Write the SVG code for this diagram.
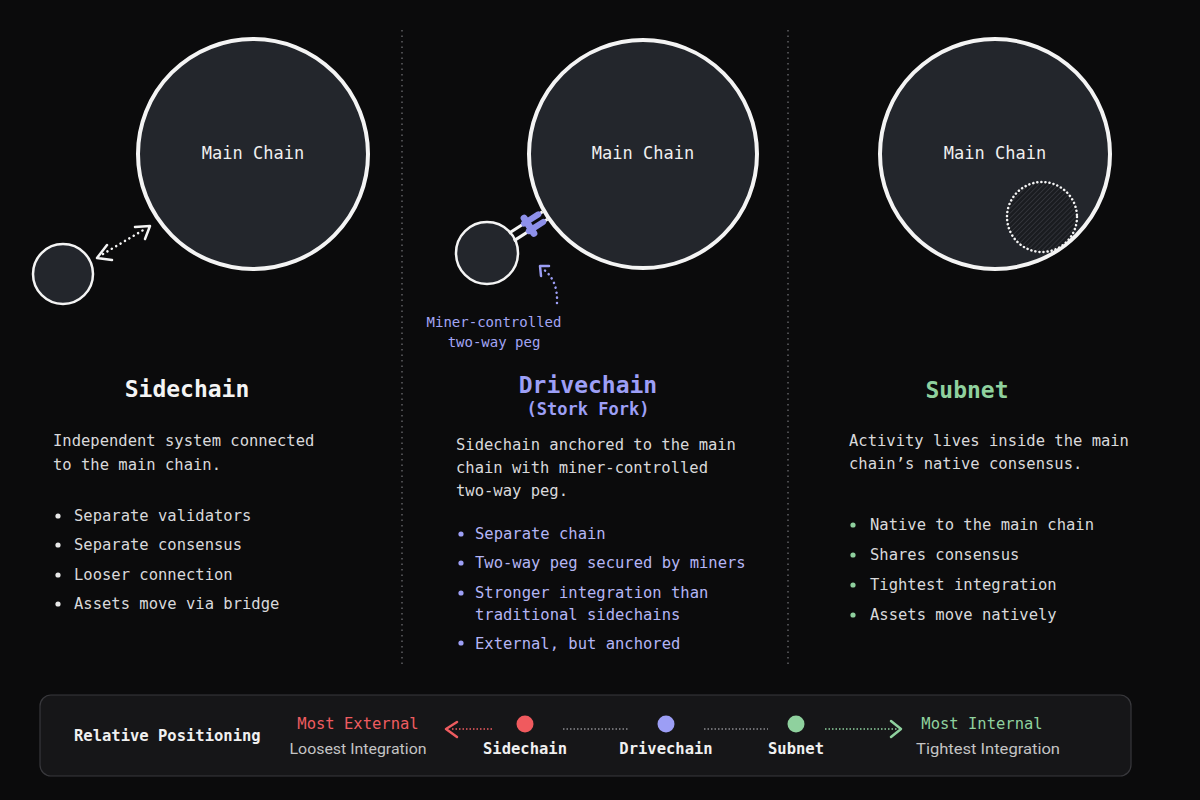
<svg xmlns="http://www.w3.org/2000/svg" width="1200" height="800" viewBox="0 0 1200 800">
<defs>
<style>
.mono{font-family:"DejaVu Sans Mono","Liberation Mono",monospace;}
.big{fill:#23262c;stroke:#f4f4f4;stroke-width:4;}
.small{fill:#23262c;stroke:#f4f4f4;stroke-width:2.5;}
.mc{font-size:17px;fill:#f0f0f0;text-anchor:middle;}
.title{font-size:23px;font-weight:bold;text-anchor:middle;}
.body{font-size:15.5px;fill:#d9d9db;}
.div{stroke:#5a5a5e;stroke-width:1.6;stroke-dasharray:1.5 4;}
.dots{fill:none;stroke-width:2.5;stroke-linecap:round;stroke-dasharray:0.1 5;}
.chev{fill:none;stroke-width:2.5;stroke-linecap:round;stroke-linejoin:round;}
.bl{font-size:15.5px;font-weight:bold;fill:#f0f0f0;text-anchor:middle;}
.sub{font-family:"Roboto","Liberation Sans",sans-serif;font-size:14px;fill:#c4c4c4;text-anchor:middle;}
.bdots{stroke-width:1.3;stroke-dasharray:1.5 2;fill:none;}
</style>
<pattern id="hatch" patternUnits="userSpaceOnUse" width="3.5" height="3.5" patternTransform="rotate(45)">
<rect width="3.5" height="3.5" fill="#1a1c20"/>
<line x1="0" y1="0" x2="0" y2="3.5" stroke="#3c3f46" stroke-width="1.2"/>
</pattern>
</defs>
<rect width="1200" height="800" fill="#0b0b0c"/>

<g id="dividers">
<line class="div" x1="402" y1="30" x2="402" y2="665"/>
<line class="div" x1="788" y1="30" x2="788" y2="665"/>
</g>

<g id="sidechain-main">
<circle class="big" cx="253" cy="154" r="115"/>
<text class="mono mc" x="253" y="159">Main Chain</text>
</g>
<g id="sidechain-small">
<circle class="small" cx="63" cy="274" r="30"/>
</g>

<g id="drivechain-main">
<circle class="big" cx="643" cy="154" r="114"/>
<text class="mono mc" x="643" y="159">Main Chain</text>
</g>
<g id="drivechain-small">
<circle class="small" cx="487" cy="253" r="31"/>
</g>

<g id="subnet-main">
<circle class="big" cx="995" cy="154" r="115"/>
<text class="mono mc" x="995" y="159">Main Chain</text>
</g>
<g id="subnet-inner">
<circle cx="1042" cy="217" r="35" fill="url(#hatch)" stroke="#f4f4f4" stroke-width="2.5" stroke-linecap="round" stroke-dasharray="0.1 4"/>
</g>

<g id="connectors">
<line class="dots" x1="103" y1="254" x2="145" y2="229" stroke="#f4f4f4"/>
<polyline class="chev" points="107,245 97,258 112,260" stroke="#f4f4f4"/>
<polyline class="chev" points="135,227 150,226 145,239" stroke="#f4f4f4"/>
<g transform="translate(513,236) rotate(-32.7)">
<line x1="-2" y1="-4.5" x2="38" y2="-4.5" stroke="#f4f4f4" stroke-width="3"/>
<line x1="-2" y1="4.5" x2="38" y2="4.5" stroke="#f4f4f4" stroke-width="3"/>
<line x1="16" y1="-4.5" x2="33" y2="-4.5" stroke="#8e90ea" stroke-width="6" stroke-linecap="round"/>
<line x1="16" y1="4.5" x2="33" y2="4.5" stroke="#8e90ea" stroke-width="6" stroke-linecap="round"/>
<line x1="19" y1="-9" x2="19" y2="9" stroke="#8e90ea" stroke-width="7" stroke-linecap="round"/>
</g>
<path class="dots" d="M557,303 Q558,280 543,269" stroke="#9c9ef5" stroke-width="2" stroke-dasharray="0.1 4"/>
<polyline class="chev" points="541,276 540,266 549,266" stroke="#9c9ef5" stroke-width="2"/>
</g>

<g id="peg-label">
<text class="mono" x="494" y="327" font-size="14" fill="#a3a5f5" text-anchor="middle">Miner-controlled</text>
<text class="mono" x="494" y="347" font-size="14" fill="#a3a5f5" text-anchor="middle">two-way peg</text>
</g>

<g id="sidechain-text">
<text class="mono title" x="187" y="397" fill="#f4f4f4">Sidechain</text>
<text class="mono body" x="53" y="446">Independent system connected</text>
<text class="mono body" x="53" y="470">to the main chain.</text>
<circle cx="58" cy="516" r="2.6" fill="#e8e8e8"/>
<circle cx="58" cy="545" r="2.6" fill="#e8e8e8"/>
<circle cx="58" cy="575" r="2.6" fill="#e8e8e8"/>
<circle cx="58" cy="604" r="2.6" fill="#e8e8e8"/>
<text class="mono body" x="74" y="521">Separate validators</text>
<text class="mono body" x="74" y="550">Separate consensus</text>
<text class="mono body" x="74" y="580">Looser connection</text>
<text class="mono body" x="74" y="609">Assets move via bridge</text>
</g>

<g id="drivechain-text">
<text class="mono title" x="588" y="393" fill="#9d9ff6">Drivechain</text>
<text class="mono" x="588" y="415" font-size="17" font-weight="bold" fill="#9d9ff6" text-anchor="middle">(Stork Fork)</text>
<text class="mono body" x="456" y="450">Sidechain anchored to the main</text>
<text class="mono body" x="456" y="473">chain with miner-controlled</text>
<text class="mono body" x="456" y="496">two-way peg.</text>
<circle cx="461" cy="534" r="2.6" fill="#9d9ff6"/>
<circle cx="461" cy="563" r="2.6" fill="#9d9ff6"/>
<circle cx="461" cy="593" r="2.6" fill="#9d9ff6"/>
<circle cx="461" cy="643" r="2.6" fill="#9d9ff6"/>
<g fill="#b4b5f5">
<text class="mono" font-size="15.5" x="475" y="539">Separate chain</text>
<text class="mono" font-size="15.5" x="475" y="568">Two-way peg secured by miners</text>
<text class="mono" font-size="15.5" x="475" y="598">Stronger integration than</text>
<text class="mono" font-size="15.5" x="475" y="620">traditional sidechains</text>
<text class="mono" font-size="15.5" x="475" y="649">External, but anchored</text>
</g>
</g>

<g id="subnet-text">
<text class="mono title" x="967" y="398" fill="#8fd19e">Subnet</text>
<text class="mono body" x="849" y="446">Activity lives inside the main</text>
<text class="mono body" x="849" y="469">chain’s native consensus.</text>
<circle cx="853" cy="525" r="2.6" fill="#8fd19e"/>
<circle cx="853" cy="555" r="2.6" fill="#8fd19e"/>
<circle cx="853" cy="585" r="2.6" fill="#8fd19e"/>
<circle cx="853" cy="615" r="2.6" fill="#8fd19e"/>
<text class="mono body" x="870" y="530">Native to the main chain</text>
<text class="mono body" x="870" y="560">Shares consensus</text>
<text class="mono body" x="870" y="590">Tightest integration</text>
<text class="mono body" x="870" y="620">Assets move natively</text>
</g>

<g id="legend">
<rect x="40" y="695" width="1091" height="81" rx="11" fill="#161618" stroke="#38383c" stroke-width="1.2"/>
<text class="mono" x="74" y="741" font-size="15.5" font-weight="bold" fill="#f0f0f0">Relative Positioning</text>
<text class="mono" x="358" y="729" font-size="15.5" fill="#ee5c60" text-anchor="middle">Most External</text>
<text class="sub" x="358" y="754" textLength="137" lengthAdjust="spacingAndGlyphs">Loosest Integration</text>
<polyline class="chev" points="457,722 446,729 457,737" stroke="#ee5c60" stroke-width="2"/>
<line class="bdots" x1="452" y1="729" x2="492" y2="729" stroke="#ee5c60"/>
<circle cx="525" cy="724" r="8.5" fill="#f05a5e"/>
<text class="mono bl" x="525" y="754">Sidechain</text>
<line class="bdots" x1="563" y1="729" x2="628" y2="729" stroke="#8a8a8e"/>
<circle cx="666" cy="724" r="8.5" fill="#9c9ef5"/>
<text class="mono bl" x="666" y="754">Drivechain</text>
<line class="bdots" x1="704" y1="729" x2="768" y2="729" stroke="#8a8a8e"/>
<circle cx="796" cy="724" r="8.5" fill="#8fd19e"/>
<text class="mono bl" x="796" y="754">Subnet</text>
<line class="bdots" x1="825" y1="729" x2="897" y2="729" stroke="#8fd19e"/>
<polyline class="chev" points="891,721 901,729 891,737" stroke="#8fd19e" stroke-width="2"/>
<text class="mono" x="982" y="729" font-size="15.5" fill="#8fd19e" text-anchor="middle">Most Internal</text>
<text class="sub" x="988" y="754" textLength="144" lengthAdjust="spacingAndGlyphs">Tightest Integration</text>
</g>
</svg>
